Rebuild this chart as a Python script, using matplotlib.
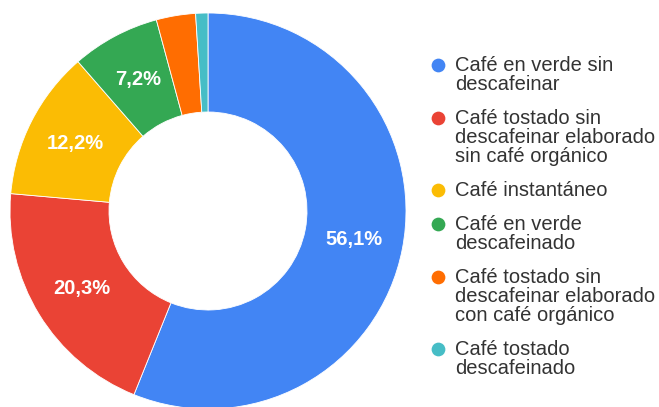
import matplotlib
matplotlib.use("Agg")
import matplotlib.pyplot as plt

# Coffee category shares (%)
labels = [
    "Café en verde sin\ndescafeinar",
    "Café tostado sin\ndescafeinar elaborado\nsin café orgánico",
    "Café instantáneo",
    "Café en verde\ndescafeinado",
    "Café tostado sin\ndescafeinar elaborado\ncon café orgánico",
    "Café tostado\ndescafeinado",
]
shares = [56.1, 20.3, 12.2, 7.2, 3.2, 1.0]
colors = ["#4285F4", "#EA4335", "#FBBC04", "#34A853", "#FF6D01", "#46BDC6"]

W, H = 659, 407
FONT = "Liberation Sans"
fig = plt.figure(figsize=(W / 100, H / 100), dpi=100)

# donut: 396 px across, centred at (208, 211) px
ax = fig.add_axes([10 / W, (H - 409) / H, 396 / W, 396 / H])


def pct_label(p):
    return f"{p:.1f}%".replace(".", ",") if p >= 5 else ""


wedges, _, autotexts = ax.pie(
    shares,
    colors=colors,
    startangle=90,
    counterclock=False,
    radius=1.0,
    autopct=pct_label,
    pctdistance=0.75,
    wedgeprops=dict(width=0.5, edgecolor="white", linewidth=0.6),
    textprops=dict(color="white", fontsize=14.5, fontweight="bold", family=FONT),
)
# pie() resets the limits, so set them afterwards
ax.set_xlim(-1, 1)
ax.set_ylim(-1, 1)
ax.set_aspect("equal")
ax.axis("off")

# legend drawn in pixel coordinates, one text per line
lax = fig.add_axes([0, 0, 1, 1])
lax.set_xlim(0, W)
lax.set_ylim(H, 0)
lax.axis("off")

line_h = 19.0
gap = 15.0
base = 71.0
for lab, col in zip(labels, colors):
    lax.scatter([438], [base - 6], s=98, color=col, linewidths=0)
    lines = lab.split("\n")
    for i, line in enumerate(lines):
        lax.text(455, base + i * line_h, line, va="baseline", ha="left",
                 fontsize=14.5, color="#333333", family=FONT)
    base += len(lines) * line_h + gap

fig.savefig("out.png", dpi=100)
